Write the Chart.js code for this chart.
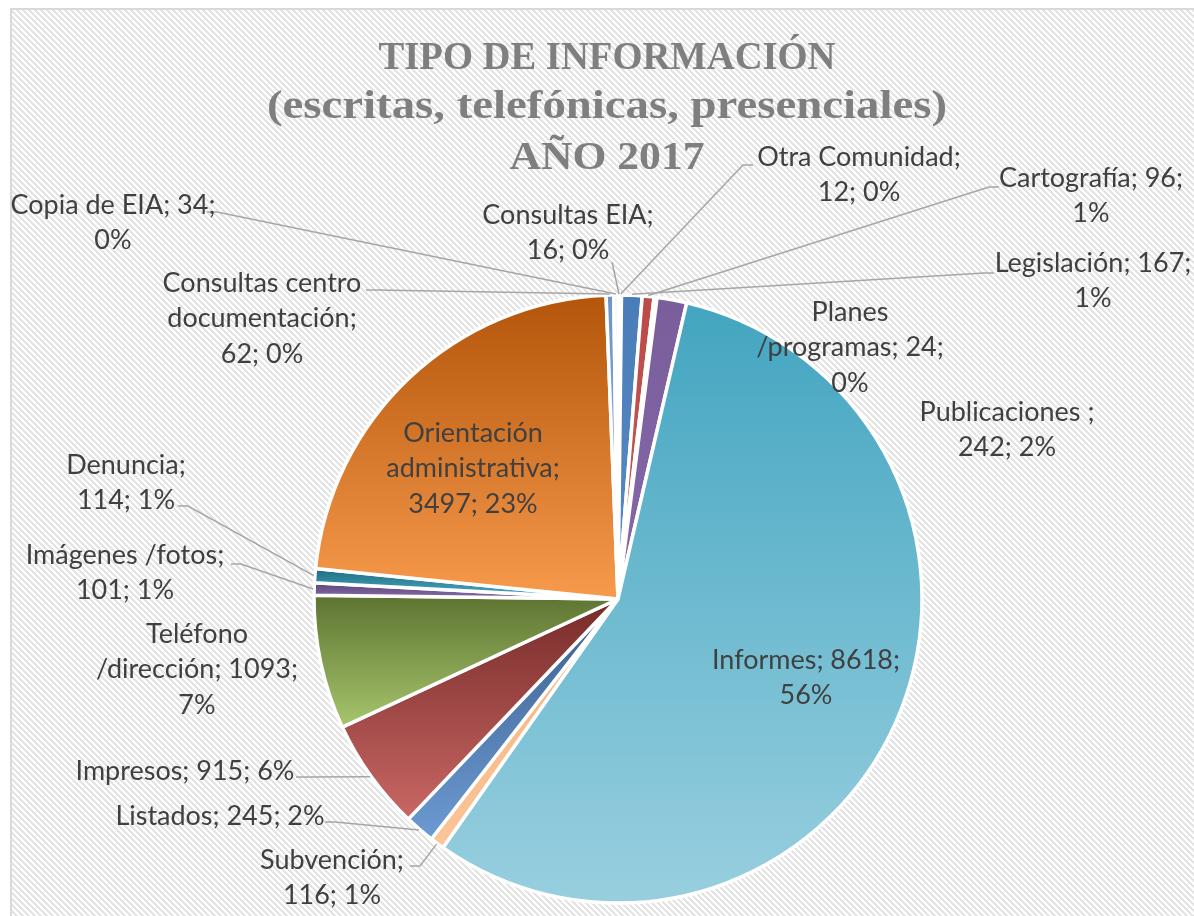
<!DOCTYPE html>
<html><head><meta charset="utf-8">
<script src="https://cdn.jsdelivr.net/npm/chart.js@4.4.1/dist/chart.umd.min.js"></script>
<style>html,body{margin:0;padding:0;background:#fff;overflow:hidden}#wrap{width:1194px;height:916px;position:relative}canvas{display:block}</style>
</head><body><div id="wrap"><canvas id="c" width="1194" height="916"></canvas></div>
<script>
// ---------- DATA ----------
const categories = ["Consultas EIA","Otra Comunidad","Legislación","Cartografía","Planes /programas","Publicaciones ","Informes","Subvención","Listados","Impresos","Teléfono /dirección","Imágenes /fotos","Denuncia","Orientación administrativa","Consultas centro documentación","Copia de EIA"];
const values = [16,12,167,96,24,242,8618,116,245,915,1093,101,114,3497,62,34];
const titleLines = ["TIPO DE INFORMACIÓN","(escritas, telefónicas, presenciales)","AÑO 2017"];

// ---------- STYLE ----------
const topColors    = ['#4F81BD','#C0504D','#4A7CB8','#BC4B48','#9BBB59','#7A5E9C','#43A5C0','#F8B07A','#3B5F8E','#762B29','#5D7431','#5A4574','#1E6C80','#B3550A','#6A95CC','#DCE6F2'];
const bottomColors = ['#4F81BD','#C0504D','#5A8BC8','#C55A57','#9BBB59','#8468A8','#98CFDF','#FBC598','#6C9AD2','#C96764','#A7C56D','#8A6FAE','#4DAEC8','#F89A4C','#8FB1DC','#DCE6F2'];

// title layout: target widths and baselines of each line
const titleWidths = [457, 680, 195];
const titleBaselines = [69, 118, 169];

// label layout: text block centre x, first line centre y, words per line, leader anchor
const labelLayout = [
  {x:568,  y:215, split:[2,2],   anchor:[612,262], stub:0},
  {x:859,  y:157, split:[2,2],   anchor:[753,165]},
  {x:1093, y:263, split:[2,1],   anchor:[994,273]},
  {x:1091, y:178, split:[2,1],   anchor:[999,187]},
  {x:850,  y:312, split:[1,2,1], anchor:null},
  {x:1007, y:412, split:[2,2],   anchor:null},
  {x:806,  y:660, split:[2,1],   anchor:null},
  {x:332,  y:860, split:[1,2],   anchor:[410,866]},
  {x:220,  y:816, split:[3],     anchor:[325,822]},
  {x:185,  y:771, split:[3],     anchor:[296,777]},
  {x:197,  y:634, split:[1,2,1], anchor:null},
  {x:125,  y:555, split:[2,2],   anchor:[231,564]},
  {x:126,  y:465, split:[1,2],   anchor:[178,506]},
  {x:473,  y:433, split:[1,1,2], anchor:null},
  {x:262,  y:283, split:[2,1,2], anchor:[366,290]},
  {x:113,  y:205, split:[4,1],   anchor:[207,212]}
];
const LINE_H = 35.5;
const PIE_R = 304;

const total = values.reduce((a,b)=>a+b,0);

function sliceGradient(c){
  const chart = c.chart, area = chart.chartArea, i = c.dataIndex;
  if (!area || i === undefined) return bottomColors[i||0];
  const cx = (area.left+area.right)/2, cy = (area.top+area.bottom)/2;
  let before = 0; for (let k=0;k<i;k++) before += values[k];
  const a0 = before/total*2*Math.PI, a1 = (before+values[i])/total*2*Math.PI;
  const ys = [cy, cy-PIE_R*Math.cos(a0), cy-PIE_R*Math.cos(a1)];
  if (a0 <= 0 || a1 >= 2*Math.PI) ys.push(cy-PIE_R);
  if (a0 <= Math.PI && a1 >= Math.PI) ys.push(cy+PIE_R);
  const minY = Math.min(...ys), maxY = Math.max(...ys);
  const g = chart.ctx.createLinearGradient(0, minY, 0, Math.max(maxY, minY+1));
  g.addColorStop(0, topColors[i]);
  g.addColorStop(1, bottomColors[i]);
  return g;
}

// background frame with diagonal hatch
const bgPlugin = {
  id:'bg',
  beforeDraw(chart){
    const ctx = chart.ctx;
    ctx.save();
    ctx.fillStyle = '#ffffff';
    ctx.fillRect(0,0,chart.width,chart.height);
    const p = document.createElement('canvas'); p.width = 6; p.height = 6;
    const pc = p.getContext('2d');
    pc.fillStyle = '#ffffff'; pc.fillRect(0,0,6,6);
    pc.fillStyle = '#E4E4E4';
    for (let y=0;y<6;y++) for (let x=0;x<6;x++) if ((((x-y)%6)+6)%6 < 3) pc.fillRect(x,y,1,1);
    ctx.fillStyle = ctx.createPattern(p,'repeat');
    ctx.fillRect(12,10,chart.width,chart.height);
    ctx.strokeStyle = '#D9D9D9'; ctx.lineWidth = 2;
    ctx.strokeRect(11,9,chart.width+20,chart.height+20);
    ctx.restore();
  }
};

const titlePlugin = {
  id:'ttl',
  afterDraw(chart){
    const ctx = chart.ctx;
    ctx.save();
    ctx.font = 'bold 41px "Liberation Serif"';
    ctx.fillStyle = '#7F7F7F';
    ctx.textAlign = 'center'; ctx.textBaseline = 'alphabetic';
    titleLines.forEach((t,k)=>{
      const w = ctx.measureText(t).width;
      const sx = titleWidths[k]/w;
      ctx.save();
      ctx.translate(607, titleBaselines[k]);
      ctx.scale(sx, 1);
      ctx.fillText(t, 0, 0);
      ctx.restore();
    });
    ctx.restore();
  }
};

const labelPlugin = {
  id:'lbl',
  afterDatasetsDraw(chart){
    const ctx = chart.ctx;
    const meta = chart.getDatasetMeta(0);
    ctx.save();
    ctx.font = '26px Lato';
    const fs = 26*188/ctx.measureText('Informes; 8618;').width;
    ctx.font = `${fs}px Lato`;
    // leader lines
    ctx.strokeStyle = '#A6A6A6'; ctx.lineWidth = 1.5;
    labelLayout.forEach((L,i)=>{
      if (!L.anchor) return;
      const el = meta.data[i];
      const mid = (el.startAngle+el.endAngle)/2;
      const ex = el.x + (el.outerRadius+1)*Math.cos(mid);
      const ey = el.y + (el.outerRadius+1)*Math.sin(mid);
      const [ax,ay] = L.anchor;
      const stub = L.stub===undefined ? 10 : L.stub;
      const dir = ex > ax ? 1 : -1;
      ctx.beginPath();
      ctx.moveTo(ax,ay);
      ctx.lineTo(ax+dir*stub, ay);
      ctx.lineTo(ex,ey);
      ctx.stroke();
    });
    // texts
    ctx.fillStyle = '#404040';
    ctx.textAlign = 'center'; ctx.textBaseline = 'middle';
    labelLayout.forEach((L,i)=>{
      const pct = Math.round(values[i]/total*100);
      const full = `${categories[i]}; ${values[i]}; ${pct}%`;
      const tokens = full.split(/\s+/);
      let k = 0;
      L.split.forEach((n,li)=>{
        const line = tokens.slice(k,k+n).join(' '); k += n;
        ctx.fillText(line, L.x, L.y + li*LINE_H);
      });
    });
    ctx.restore();
  }
};

new Chart(document.getElementById('c'), {
  type:'pie',
  data:{
    labels: categories,
    datasets:[{
      data: values,
      backgroundColor: sliceGradient,
      borderColor:'#ffffff',
      borderWidth:3.5,
      hoverBorderWidth:3.5,
      hoverOffset:0,
      radius: PIE_R
    }]
  },
  options:{
    responsive:false,
    devicePixelRatio:1,
    animation:false,
    events:[],
    layout:{padding:{left:312,right:270,top:293,bottom:11}},
    plugins:{legend:{display:false},title:{display:false},tooltip:{enabled:false}}
  },
  plugins:[bgPlugin,labelPlugin,titlePlugin]
});
</script>
</body></html>
